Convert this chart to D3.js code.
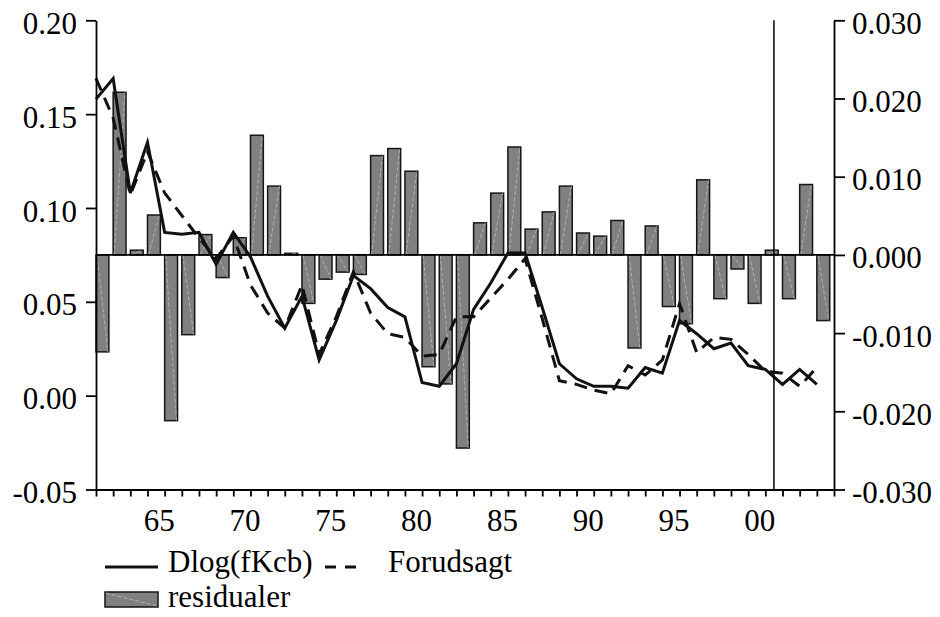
<!DOCTYPE html>
<html>
<head>
<meta charset="utf-8">
<script src="https://cdn.jsdelivr.net/npm/d3@7"></script>
<style>
  html, body { margin: 0; padding: 0; background: #fff; }
  svg { display: block; font-family: "Liberation Serif", "Times New Roman", serif; }
</style>
</head>
<body>
<svg id="chart" width="940" height="617"></svg>
<script>
// Annual observations 1961-2003
const years = [1961, 1962, 1963, 1964, 1965, 1966, 1967, 1968, 1969, 1970,
               1971, 1972, 1973, 1974, 1975, 1976, 1977, 1978, 1979, 1980,
               1981, 1982, 1983, 1984, 1985, 1986, 1987, 1988, 1989, 1990,
               1991, 1992, 1993, 1994, 1995, 1996, 1997, 1998, 1999, 2000,
               2001, 2002, 2003];

// Dlog(fKcb), left axis
const dlogFKcb = [0.158, 0.169, 0.108, 0.135, 0.087, 0.086, 0.087, 0.070, 0.087, 0.074,
                  0.053, 0.036, 0.053, 0.019, 0.040, 0.064, 0.057, 0.047, 0.042, 0.007,
                  0.005, 0.017, 0.046, 0.060, 0.076, 0.076, 0.047, 0.017, 0.009, 0.005,
                  0.005, 0.004, 0.015, 0.012, 0.040, 0.033, 0.025, 0.028, 0.016, 0.014,
                  0.006, 0.014, 0.006];

// Forudsagt (fitted), left axis
const forudsagt = [0.169, 0.148, 0.107, 0.130, 0.108, 0.096, 0.084, 0.073, 0.085, 0.059,
                   0.044, 0.036, 0.059, 0.022, 0.042, 0.066, 0.044, 0.033, 0.031, 0.021,
                   0.022, 0.042, 0.042, 0.052, 0.062, 0.073, 0.041, 0.008, 0.006, 0.003,
                   0.001, 0.016, 0.011, 0.019, 0.049, 0.023, 0.031, 0.030, 0.022, 0.013,
                   0.012, 0.005, 0.015];

// Residualer, right axis
const residualer = [-0.0124, 0.0208, 0.0006, 0.0051, -0.0212, -0.0102, 0.0026, -0.0029, 0.0022, 0.0153,
                    0.0088, 0.0002, -0.0062, -0.0031, -0.0022, -0.0025, 0.0127, 0.0136, 0.0107, -0.0143,
                    -0.0165, -0.0247, 0.0041, 0.0079, 0.0138, 0.0033, 0.0055, 0.0088, 0.0028, 0.0024,
                    0.0044, -0.0119, 0.0037, -0.0066, -0.0088, 0.0096, -0.0056, -0.0018, -0.0062, 0.0006,
                    -0.0056, 0.0090, -0.0084];

const leftTicks  = [-0.05, 0.00, 0.05, 0.10, 0.15, 0.20];
const rightTicks = [-0.030, -0.020, -0.010, 0.000, 0.010, 0.020, 0.030];
const yearTicks  = [1961, 1962, 1963, 1964, 1965, 1966, 1967, 1968, 1969, 1970,
                    1971, 1972, 1973, 1974, 1975, 1976, 1977, 1978, 1979, 1980,
                    1981, 1982, 1983, 1984, 1985, 1986, 1987, 1988, 1989, 1990,
                    1991, 1992, 1993, 1994, 1995, 1996, 1997, 1998, 1999, 2000,
                    2001, 2002, 2003, 2004];
const labelYears = [1965, 1970, 1975, 1980, 1985, 1990, 1995, 2000];
const yearLabels = ["65", "70", "75", "80", "85", "90", "95", "00"];
const sampleBreak = 2000.5;

const svg = d3.select("#chart");
const plot = { left: 96, right: 834, top: 20.3, bottom: 489.5 };
const FONT = 31;

const x  = d3.scaleLinear().domain([1961, 2004]).range([plot.left, plot.right]);
const yL = d3.scaleLinear().domain([-0.05, 0.20]).range([plot.bottom, plot.top]);
const yR = d3.scaleLinear().domain([-0.03, 0.03]).range([plot.bottom, plot.top]);
const barSpan = 0.75; // share of a year covered by each residual bar

// residual bars
const bars = years.map((yr, i) => ({ yr, v: residualer[i] }));
const gBars = svg.append("g");
gBars.selectAll("rect").data(bars).join("rect")
  .attr("x", d => x(d.yr))
  .attr("width", d => x(d.yr + barSpan) - x(d.yr))
  .attr("y", d => Math.min(yR(d.v), yR(0)))
  .attr("height", d => Math.abs(yR(d.v) - yR(0)))
  .attr("fill", "#808080")
  .attr("stroke", "#151515")
  .attr("stroke-width", 1.5);
gBars.selectAll("line").data(bars).join("line")
  .attr("x1", d => x(d.yr) + 1).attr("y1", yR(0))
  .attr("x2", d => x(d.yr + barSpan) - 1).attr("y2", d => yR(d.v))
  .attr("stroke", "#c4c4c4").attr("stroke-width", 0.7)
  .attr("stroke-dasharray", "4,2");

// zero line for residuals
svg.append("line")
  .attr("x1", x(1961)).attr("x2", x(2004))
  .attr("y1", yR(0)).attr("y2", yR(0))
  .attr("stroke", "#000").attr("stroke-width", 1.8);

// series lines
const lineL = d3.line().x(d => x(d.yr)).y(d => yL(d.v));
svg.append("path")
  .datum(years.map((yr, i) => ({ yr, v: dlogFKcb[i] })))
  .attr("d", lineL).attr("fill", "none")
  .attr("stroke", "#111").attr("stroke-width", 3)
  .attr("stroke-linejoin", "miter");
svg.append("path")
  .datum(years.map((yr, i) => ({ yr, v: forudsagt[i] })))
  .attr("d", lineL).attr("fill", "none")
  .attr("stroke", "#111").attr("stroke-width", 3)
  .attr("stroke-dasharray", "13,8");

// axes
function styleAxis(g) {
  g.select(".domain").attr("stroke", "#000").attr("stroke-width", 1.8);
  g.selectAll(".tick line").attr("stroke", "#000").attr("stroke-width", 1.8);
  g.selectAll(".tick text").attr("fill", "#000").style("font-size", FONT + "px")
    .style("font-family", '"Liberation Serif", "Times New Roman", serif');
}

const axL = svg.append("g").attr("transform", `translate(${plot.left},0)`)
  .call(d3.axisLeft(yL).tickValues(leftTicks).tickSize(10).tickSizeOuter(0)
    .tickPadding(9).tickFormat(v => v.toFixed(2)));
styleAxis(axL);
axL.selectAll(".tick text").attr("dy", "0.42em");

const axR = svg.append("g").attr("transform", `translate(${plot.right},0)`)
  .call(d3.axisRight(yR).tickValues(rightTicks).tickSize(11).tickSizeOuter(0)
    .tickPadding(7).tickFormat(v => (Math.abs(v) < 1e-9 ? 0 : v).toFixed(3)));
styleAxis(axR);
axR.selectAll(".tick text").attr("dy", "0.42em");

const axB = svg.append("g").attr("transform", `translate(0,${plot.bottom})`)
  .call(d3.axisBottom(x).tickValues(yearTicks).tickSize(7).tickSizeOuter(0)
    .tickPadding(12).tickFormat(v => {
      const i = labelYears.indexOf(v);
      return i >= 0 ? yearLabels[i] : "";
    }));
styleAxis(axB);
axB.selectAll(".tick text").attr("dx", -6);

// sample break marker
svg.append("line")
  .attr("x1", x(sampleBreak)).attr("x2", x(sampleBreak))
  .attr("y1", plot.top).attr("y2", plot.bottom)
  .attr("stroke", "#000").attr("stroke-width", 1.5);

// legend
const lg = svg.append("g").style("font-size", FONT + "px");
lg.append("line").attr("x1", 105).attr("x2", 158).attr("y1", 567).attr("y2", 567)
  .attr("stroke", "#111").attr("stroke-width", 2.8);
lg.append("text").attr("x", 168).attr("y", 572).text("Dlog(fKcb)");
lg.append("line").attr("x1", 325).attr("x2", 357).attr("y1", 567).attr("y2", 567)
  .attr("stroke", "#111").attr("stroke-width", 2.8).attr("stroke-dasharray", "11,9");
lg.append("text").attr("x", 388).attr("y", 572).text("Forudsagt");
lg.append("rect").attr("x", 105).attr("y", 592).attr("width", 53).attr("height", 15)
  .attr("fill", "#808080").attr("stroke", "#151515").attr("stroke-width", 1.5);
lg.append("line").attr("x1", 106).attr("y1", 593).attr("x2", 157).attr("y2", 606)
  .attr("stroke", "#c4c4c4").attr("stroke-width", 0.7).attr("stroke-dasharray", "4,2");
lg.append("text").attr("x", 168).attr("y", 607).text("residualer");
</script>
</body>
</html>
